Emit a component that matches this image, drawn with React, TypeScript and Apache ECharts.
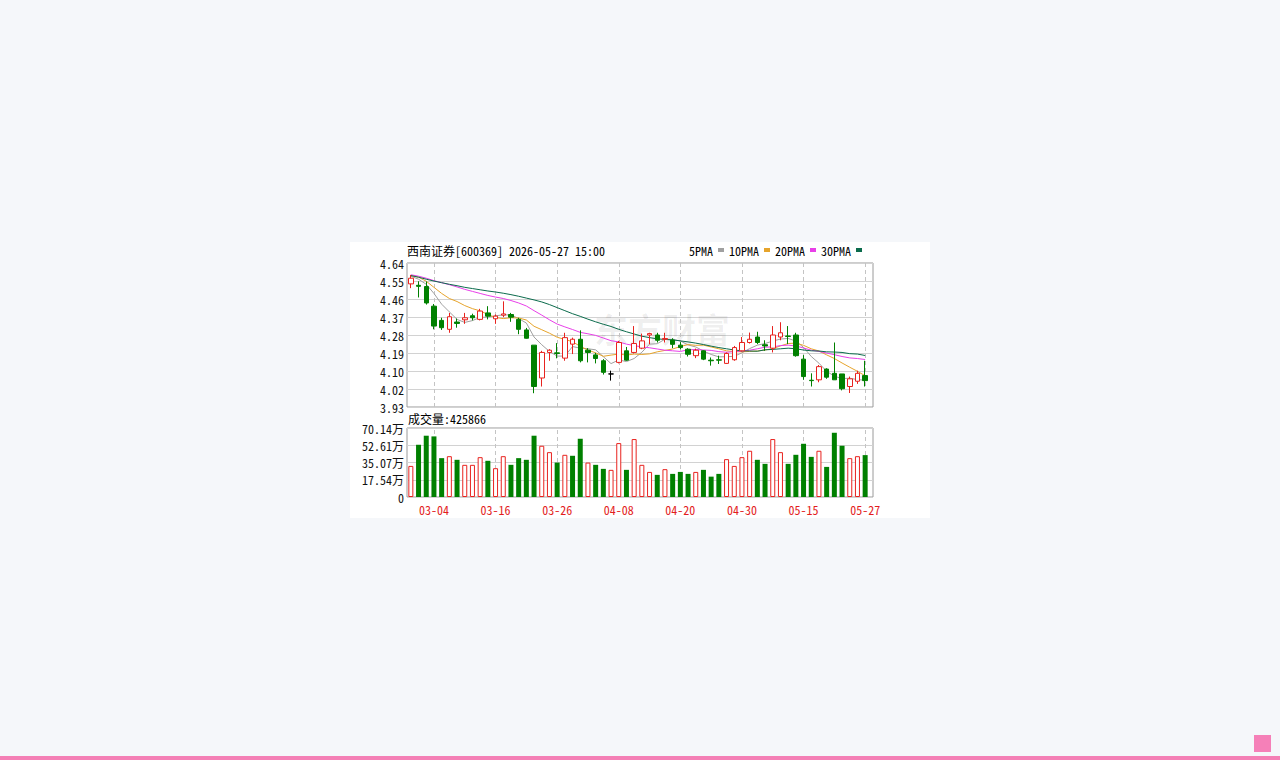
import React, { useEffect, useRef } from 'react';
import * as echarts from 'echarts';

const stockTitle = '西南证券[600369] 2026-05-27 15:00';
const latestVolume = 425866;

const dates = ['02-27','03-02','03-03','03-04','03-05','03-06','03-09','03-10','03-11','03-12','03-13','03-16','03-17','03-18','03-19','03-20','03-23','03-24','03-25','03-26','03-27','03-30','03-31','04-01','04-02','04-03','04-07','04-08','04-09','04-10','04-13','04-14','04-15','04-16','04-17','04-20','04-21','04-22','04-23','04-24','04-27','04-28','04-29','04-30','05-06','05-07','05-08','05-11','05-12','05-13','05-14','05-15','05-18','05-19','05-20','05-21','05-22','05-25','05-26','05-27'];
const labelDates = ['03-04','03-16','03-26','04-08','04-20','04-30','05-15','05-27'];

const opens = [4.537,4.530,4.524,4.427,4.357,4.313,4.349,4.360,4.380,4.362,4.394,4.365,4.383,4.386,4.362,4.310,4.235,4.073,4.199,4.197,4.171,4.240,4.264,4.210,4.187,4.158,4.093,4.150,4.207,4.199,4.220,4.285,4.285,4.264,4.260,4.235,4.215,4.183,4.207,4.161,4.163,4.145,4.163,4.207,4.248,4.275,4.237,4.220,4.275,4.280,4.285,4.166,4.062,4.064,4.117,4.096,4.093,4.031,4.057,4.085];
const closes = [4.565,4.525,4.443,4.329,4.321,4.375,4.342,4.370,4.370,4.403,4.378,4.378,4.389,4.373,4.313,4.269,4.031,4.199,4.210,4.194,4.272,4.264,4.158,4.199,4.169,4.101,4.093,4.248,4.161,4.243,4.256,4.292,4.259,4.268,4.239,4.223,4.190,4.210,4.166,4.158,4.161,4.194,4.223,4.248,4.264,4.248,4.231,4.285,4.296,4.278,4.183,4.080,4.060,4.129,4.077,4.064,4.020,4.069,4.096,4.060];
const lows = [4.516,4.470,4.435,4.313,4.310,4.296,4.321,4.340,4.357,4.357,4.362,4.340,4.373,4.350,4.289,4.267,3.998,4.031,4.158,4.170,4.158,4.191,4.150,4.150,4.145,4.090,4.060,4.145,4.158,4.194,4.215,4.240,4.248,4.248,4.220,4.215,4.179,4.171,4.161,4.134,4.142,4.142,4.158,4.204,4.243,4.240,4.207,4.199,4.259,4.240,4.178,4.064,4.031,4.052,4.069,4.064,4.012,3.999,4.044,4.031];
const highs = [4.581,4.550,4.549,4.438,4.370,4.394,4.366,4.394,4.390,4.414,4.427,4.386,4.451,4.394,4.370,4.320,4.235,4.207,4.215,4.245,4.296,4.272,4.308,4.220,4.197,4.166,4.109,4.256,4.226,4.329,4.292,4.296,4.296,4.296,4.269,4.250,4.220,4.218,4.210,4.174,4.183,4.199,4.231,4.275,4.297,4.301,4.259,4.329,4.348,4.329,4.296,4.186,4.096,4.137,4.121,4.248,4.093,4.080,4.109,4.158];

const ma5 = [4.575,4.560,4.535,4.490,4.437,4.399,4.362,4.347,4.356,4.372,4.373,4.380,4.384,4.384,4.366,4.344,4.275,4.237,4.204,4.181,4.181,4.228,4.220,4.217,4.212,4.178,4.144,4.162,4.154,4.169,4.200,4.240,4.242,4.264,4.263,4.256,4.236,4.226,4.206,4.189,4.177,4.178,4.180,4.197,4.218,4.235,4.243,4.255,4.265,4.268,4.255,4.224,4.179,4.146,4.106,4.082,4.070,4.072,4.065,4.062];
const ma10 = [4.578,4.570,4.550,4.520,4.490,4.465,4.450,4.430,4.415,4.404,4.386,4.371,4.366,4.370,4.369,4.359,4.328,4.311,4.294,4.274,4.263,4.252,4.229,4.211,4.197,4.180,4.186,4.191,4.186,4.191,4.189,4.192,4.202,4.209,4.216,4.228,4.238,4.234,4.235,4.226,4.217,4.207,4.203,4.202,4.204,4.206,4.211,4.218,4.231,4.243,4.245,4.234,4.217,4.206,4.187,4.169,4.147,4.126,4.106,4.084];
const ma20 = [4.582,4.575,4.565,4.553,4.543,4.533,4.522,4.510,4.500,4.490,4.480,4.472,4.465,4.455,4.443,4.428,4.405,4.383,4.360,4.339,4.325,4.312,4.298,4.291,4.283,4.270,4.257,4.251,4.240,4.233,4.226,4.222,4.216,4.210,4.207,4.204,4.212,4.213,4.211,4.209,4.203,4.200,4.203,4.206,4.210,4.217,4.225,4.226,4.233,4.235,4.231,4.221,4.210,4.204,4.196,4.188,4.179,4.172,4.169,4.164];
const ma30 = [4.578,4.570,4.560,4.551,4.543,4.535,4.528,4.520,4.514,4.508,4.502,4.497,4.491,4.484,4.476,4.467,4.458,4.448,4.435,4.420,4.405,4.390,4.377,4.363,4.350,4.338,4.327,4.313,4.301,4.290,4.279,4.272,4.266,4.263,4.261,4.256,4.251,4.245,4.238,4.230,4.223,4.217,4.211,4.207,4.206,4.205,4.212,4.214,4.217,4.220,4.217,4.211,4.207,4.206,4.202,4.201,4.199,4.193,4.191,4.184];

// volume in 万
const volumes = [31.6,53.1,62.3,61.6,39.5,41.5,37.8,32.7,32.7,40.5,36.8,29.3,41.5,32.7,39.5,37.8,62.3,52.1,45.6,35.0,42.9,41.9,59.2,35.0,32.7,28.6,27.6,54.8,27.6,58.9,32.7,25.5,22.5,28.3,23.5,25.5,23.5,25.5,27.6,20.7,23.5,38.5,31.6,40.5,47.0,37.8,33.7,58.9,45.6,33.7,42.9,54.1,40.8,47.0,30.6,65.3,52.1,39.5,41.5,42.59];
// 1 = red (up), -1 = green (down)
const volumeDir = [1,-1,-1,-1,-1,1,-1,1,1,1,-1,1,1,-1,-1,-1,-1,1,1,-1,1,-1,-1,1,-1,-1,1,1,-1,1,1,1,-1,1,-1,-1,-1,1,-1,-1,-1,1,1,1,1,-1,-1,1,1,-1,-1,-1,-1,1,-1,-1,-1,1,1,-1];

const priceTicks = ['3.93','4.02','4.10','4.19','4.28','4.37','4.46','4.55','4.64'];
const volTicks = ['0','17.54万','35.07万','52.61万','70.14万'];
const priceMin = 3.93;
const priceMax = 4.64;
const volMax = 70.14;

const RED = '#e8231f';
const GREEN = '#008000';
const FONT = '"Noto Sans Mono CJK SC", "DejaVu Sans Mono", monospace';

export default function App() {
  const ref = useRef<HTMLDivElement>(null);
  useEffect(() => {
    if (!ref.current) return;
    const chart = echarts.init(ref.current, undefined, { renderer: 'svg' });
    const candleData = opens.map((o, i) => {
      const item: any = { value: [o, closes[i], lows[i], highs[i]] };
      if (o === closes[i]) {
        item.itemStyle = { color: '#000', color0: '#000', borderColor: '#000', borderColor0: '#000' };
      }
      return item;
    });
    const volData = volumes.map((v, i) => ({
      value: v,
      itemStyle: volumeDir[i] > 0
        ? { color: '#fff', borderColor: RED, borderWidth: 1 }
        : { color: GREEN, borderColor: GREEN, borderWidth: 0 },
    }));
    const vLines = {
      silent: true,
      z: 1,
      symbol: ['none', 'none'],
      label: { show: false },
      lineStyle: { color: '#c4c4c4', type: [4, 3], width: 1 },
      data: labelDates.map((d) => ({ xAxis: d })),
    };
    const maSeries = (name: string, data: number[], color: string) => ({
      name,
      type: 'line',
      xAxisIndex: 0,
      yAxisIndex: 0,
      data,
      showSymbol: false,
      symbol: 'none',
      color,
      lineStyle: { width: 1, color },
      z: 3,
    });
    chart.setOption({
      animation: false,
      backgroundColor: 'transparent',
      legend: {
        data: ['5PMA', '10PMA', '20PMA', '30PMA'],
        icon: 'rect',
        itemWidth: 6,
        itemHeight: 4,
        itemGap: 5,
        align: 'right',
        right: 418,
        top: 244,
        padding: 0,
        selectedMode: false,
        textStyle: { fontSize: 12, fontFamily: FONT, color: '#000' },
      },
      graphic: [
        {
          type: 'text', left: 594, top: 311, z: 1, silent: true,
          style: { text: '东方财富', fontSize: 34, fontWeight: 'bold', fontFamily: '"Noto Sans CJK SC"', fill: 'rgba(0,0,0,0.065)' },
        },
        {
          type: 'text', left: 407, top: 244,
          style: { text: stockTitle, fontSize: 12, fontFamily: FONT, fill: '#000' },
        },
        {
          type: 'text', left: 408, top: 412,
          style: { text: '成交量:' + latestVolume, fontSize: 12, fontFamily: FONT, fill: '#000' },
        },
      ],
      grid: [
        { left: 407, top: 263, width: 462, height: 144 },
        { left: 407, top: 428, width: 462, height: 69 },
        { left: 407, top: 263, width: 466, height: 144, show: true, borderColor: '#9a9a9a', borderWidth: 1, backgroundColor: 'transparent' },
        { left: 407, top: 428, width: 466, height: 69, show: true, borderColor: '#9a9a9a', borderWidth: 1, backgroundColor: 'transparent' },
      ],
      xAxis: [
        { type: 'category', gridIndex: 0, data: dates, boundaryGap: true, show: false },
        {
          type: 'category', gridIndex: 1, data: dates, boundaryGap: true,
          axisLine: { show: false }, axisTick: { show: false }, splitLine: { show: false },
          axisLabel: {
            interval: (_i: number, v: string) => labelDates.includes(v),
            color: '#e31d1d', fontSize: 12, fontFamily: FONT, margin: 6,
            showMinLabel: true, showMaxLabel: true, hideOverlap: false,
          },
        },
        { type: 'value', gridIndex: 2, min: 0, max: 1, show: false },
        { type: 'value', gridIndex: 3, min: 0, max: 1, show: false },
      ],
      yAxis: [
        { type: 'value', gridIndex: 0, min: priceMin, max: priceMax, show: false },
        { type: 'value', gridIndex: 1, min: 0, max: volMax, show: false },
        {
          type: 'value', gridIndex: 2, min: 0, max: priceTicks.length - 1, interval: 1,
          axisLine: { show: false }, axisTick: { show: false },
          splitLine: { show: true, lineStyle: { color: '#d2d2d2', width: 1 } },
          axisLabel: {
            formatter: (v: number) => priceTicks[Math.round(v)],
            color: '#111', fontSize: 12, fontFamily: FONT, margin: 3,
          },
        },
        {
          type: 'value', gridIndex: 3, min: 0, max: volTicks.length - 1, interval: 1,
          axisLine: { show: false }, axisTick: { show: false },
          splitLine: { show: true, lineStyle: { color: '#d2d2d2', width: 1 } },
          axisLabel: {
            formatter: (v: number) => volTicks[Math.round(v)],
            color: '#111', fontSize: 12, fontFamily: FONT, margin: 3,
          },
        },
      ],
      series: [
        {
          name: 'K',
          type: 'candlestick',
          xAxisIndex: 0,
          yAxisIndex: 0,
          data: candleData,
          barWidth: 5,
          z: 4,
          itemStyle: { color: '#fff', color0: GREEN, borderColor: RED, borderColor0: GREEN, borderWidth: 1 },
          markLine: vLines,
        },
        maSeries('5PMA', ma5, '#a0a0a0'),
        maSeries('10PMA', ma10, '#e6a42c'),
        maSeries('20PMA', ma20, '#e83fe8'),
        maSeries('30PMA', ma30, '#0b6b4c'),
        {
          name: 'VOL',
          type: 'bar',
          xAxisIndex: 1,
          yAxisIndex: 1,
          data: volData,
          barWidth: 5,
          z: 4,
          markLine: vLines,
        },
      ],
    });
    return () => chart.dispose();
  }, []);

  return (
    <div style={{ position: 'fixed', left: 0, top: 0, width: 1280, height: 760, background: '#f5f7fa', overflow: 'hidden' }}>
      <div style={{ position: 'absolute', left: 350, top: 242, width: 580, height: 276, background: '#ffffff' }} />
      <div ref={ref} style={{ position: 'absolute', left: 0, top: 0, width: 1280, height: 760 }} />
      <div style={{ position: 'absolute', left: 0, top: 756, width: 1280, height: 4, background: '#f47fb5' }} />
      <div style={{ position: 'absolute', left: 1254, top: 735, width: 17, height: 17, background: '#f580b8' }} />
    </div>
  );
}
